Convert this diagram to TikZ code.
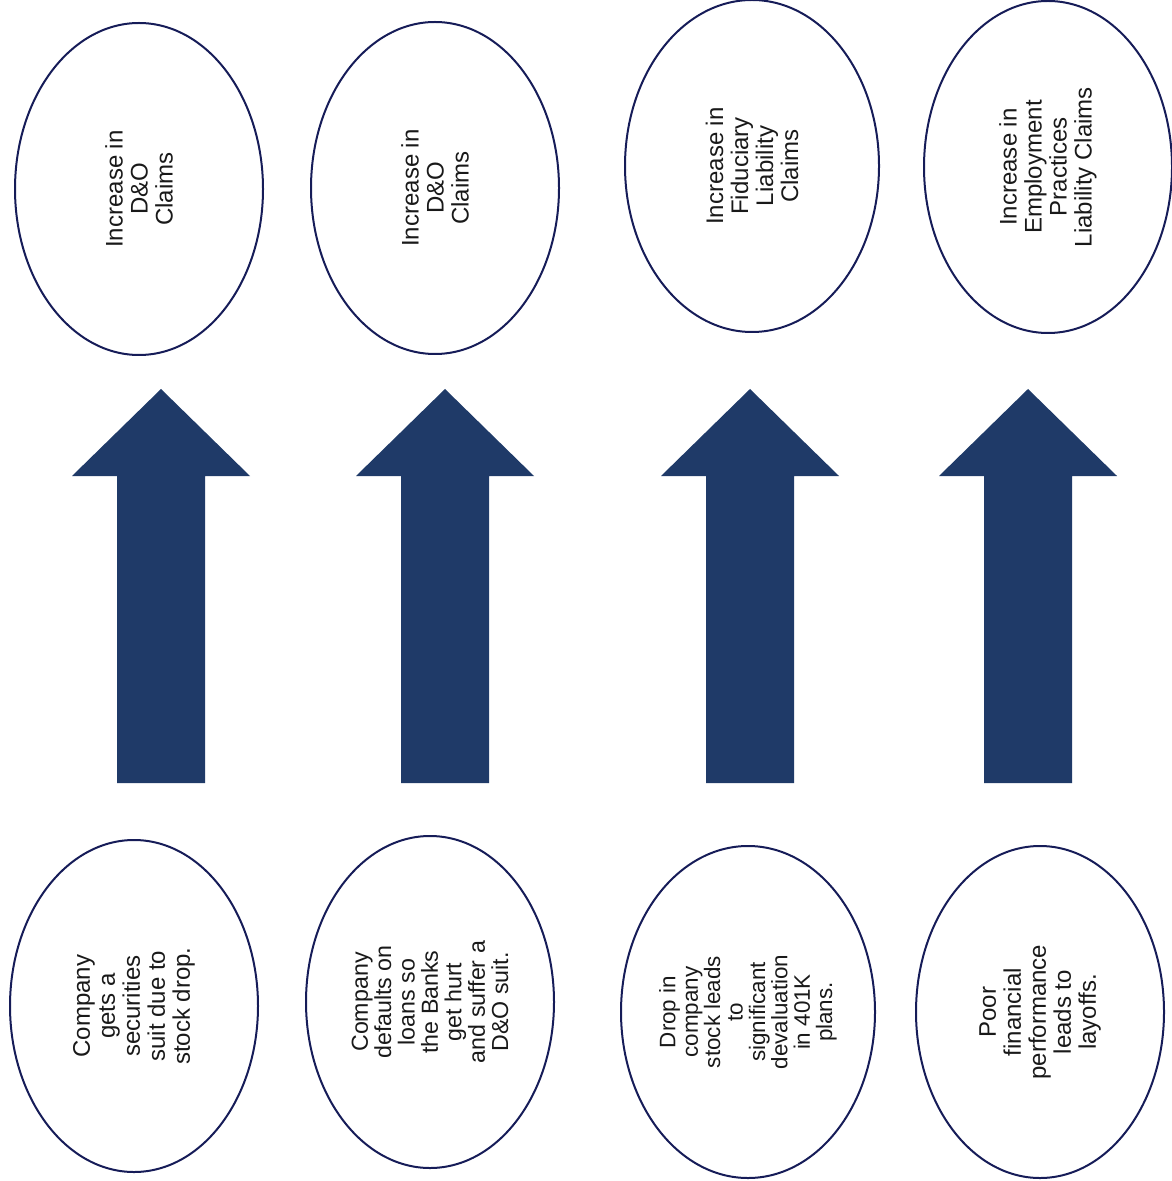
\documentclass[tikz,border=0pt]{standalone}
\usepackage{fontspec}
\setmainfont{Liberation Sans}
\usepackage{tikz}
\usetikzlibrary{shapes.geometric,positioning}
\definecolor{ringblue}{RGB}{22,28,88}
\definecolor{arrowblue}{RGB}{31,58,104}
\definecolor{inkgray}{RGB}{25,25,25}
\tikzset{
  claim/.style={ellipse, draw=ringblue, line width=1pt, rotate=90, minimum width=166pt, minimum height=124pt, inner sep=-30pt, align=center, text=inkgray, font=\fontsize{12}{12.5}\selectfont},
  cause/.style={claim},
  tight/.style 2 args={font=\fontsize{#1}{#2}\selectfont},
  bigarrow/.style={fill=arrowblue},
}
% block arrow pointing up, drawn from its tip
\newcommand{\leadsup}[1]{\fill[bigarrow] (#1) -- ++(89,87) -- ++(-45,0) -- ++(0,307) -- ++(-88,0) -- ++(0,-307) -- ++(-45,0) -- cycle;}

\begin{document}
\begin{tikzpicture}[x=0.5pt, y=-0.5pt]
  \useasboundingbox (0,0) rectangle (1171,1181);

  % Claims (top row)
  \node[claim] (claimA) at (139,189) {Increase in\\D\&O\\Claims};
  \node[claim] (claimB) at (435,188) {Increase in\\D\&O\\Claims};
  \node[claim, minimum height=127pt] (claimC) at (752,166) {Increase in\\Fiduciary\\Liability\\Claims};
  \node[claim] (claimD) at (1048,167) {Increase in\\Employment\\Practices\\Liability Claims};

  % Causes (bottom row)
  \node[cause] (causeA) at (134,1006) {Company\\gets a\\securities\\suit due to\\stock drop.};
  \node[cause, tight={11.6pt}{11.7pt}] (causeB) at (430,1002) {Company\\defaults on\\loans so\\the Banks\\get hurt\\and suffer a\\D\&O suit.};
  \node[cause, tight={11.2pt}{11.2pt}, minimum height=127pt] (causeC) at (748,1012) {Drop in\\company\\stock leads\\to\\significant\\devaluation\\in 401K\\plans.};
  \node[cause] (causeD) at (1040,1012) {Poor\\financial\\performance\\leads to\\layoffs.};

  % Arrows in between
  \coordinate (tipA) at (161,389);
  \coordinate (tipB) at (445,389);
  \coordinate (tipC) at (750,389);
  \coordinate (tipD) at (1028,389);
  \leadsup{tipA}
  \leadsup{tipB}
  \leadsup{tipC}
  \leadsup{tipD}

\end{tikzpicture}
\end{document}
